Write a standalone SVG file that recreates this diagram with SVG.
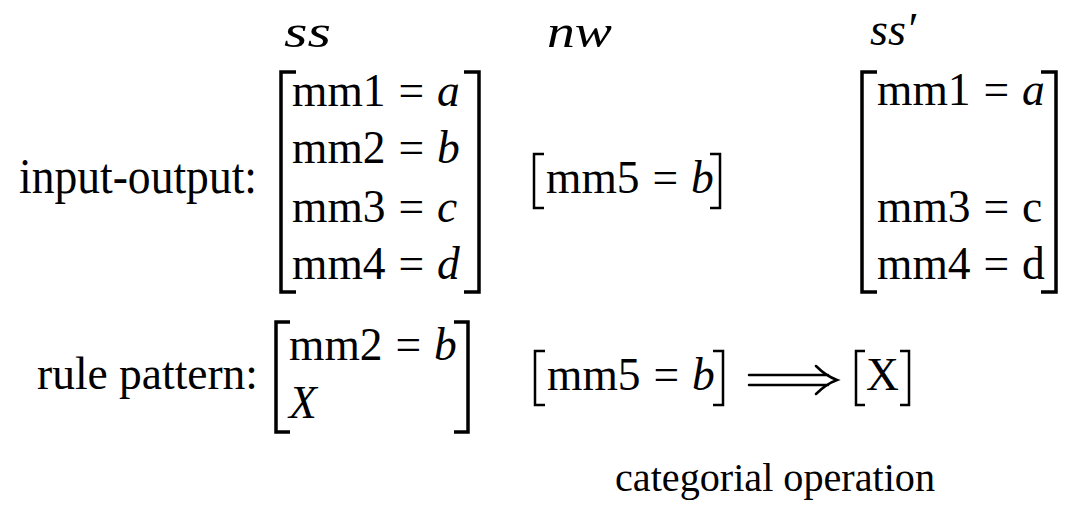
<svg xmlns="http://www.w3.org/2000/svg" width="1071" height="507" viewBox="0 0 1071 507">
<style>
text{font-family:"Liberation Serif","Times New Roman",serif;fill:#000}
.lbl{font-size:50px}
.ent{font-size:45.5px;word-spacing:1.5px}
.var{font-size:46px;font-style:italic}
.i{font-style:italic}
.br{fill:none;stroke:#000;stroke-width:3.5;stroke-linecap:butt;stroke-linejoin:miter}
.bs{fill:none;stroke:#000;stroke-width:2.5}
.arr{fill:none;stroke:#000;stroke-width:2.5;stroke-linecap:round}
</style>
<rect width="1071" height="507" fill="#fff"/>
<g id="header-ss"><text class="var" x="284" y="47" textLength="47" lengthAdjust="spacingAndGlyphs">ss</text></g>
<g id="header-nw"><text class="var" x="547" y="47" textLength="65" lengthAdjust="spacingAndGlyphs">nw</text></g>
<g id="header-ss-prime"><text class="var" x="870" y="45">ss′</text></g>
<g id="label-input-output"><text class="lbl" x="19" y="193" textLength="238" lengthAdjust="spacingAndGlyphs">input-output:</text></g>
<g id="matrix-ss">
<path class="br" d="M296,72 H281 V292 H296"/>
<path class="br" d="M464,72 H479 V292 H464"/>
<text class="ent" x="292" y="106">mm1 = <tspan class="i">a</tspan></text>
<text class="ent" x="292" y="163">mm2 = <tspan class="i">b</tspan></text>
<text class="ent" x="292" y="222">mm3 = <tspan class="i">c</tspan></text>
<text class="ent" x="292" y="279">mm4 = <tspan class="i">d</tspan></text>
</g>
<g id="matrix-nw">
<path class="bs" d="M544,154 H534 V208 H544"/>
<path class="bs" d="M710,154 H720 V208 H710"/>
<text class="ent" x="546" y="193">mm5 = <tspan class="i">b</tspan></text>
</g>
<g id="matrix-ss-prime">
<path class="br" d="M877,72 H862 V292 H877"/>
<path class="br" d="M1041,72 H1056 V292 H1041"/>
<text class="ent" x="877" y="105">mm1 = <tspan class="i">a</tspan></text>
<text class="ent" x="877" y="222">mm3 = c</text>
<text class="ent" x="877" y="279">mm4 = d</text>
</g>
<g id="label-rule-pattern"><text class="lbl" x="37" y="389" style="font-size:45.5px" textLength="221" lengthAdjust="spacingAndGlyphs">rule pattern:</text></g>
<g id="matrix-rule">
<path class="br" d="M290,322 H276 V432 H290"/>
<path class="br" d="M454,322 H468 V432 H454"/>
<text class="ent" x="289" y="360">mm2 = <tspan class="i">b</tspan></text>
<text class="ent i" x="289" y="418">X</text>
</g>
<g id="matrix-rule-nw">
<path class="bs" d="M545,351 H535 V405 H545"/>
<path class="bs" d="M713,351 H723 V405 H713"/>
<text class="ent" x="547" y="390">mm5 = <tspan class="i">b</tspan></text>
</g>
<g id="connectors">
<path class="arr" d="M749,375 H828 M749,385 H828 M816,366 Q826,376 837,380 Q826,384 816,394"/>
</g>
<g id="result-x">
<path class="bs" d="M865,351 H856 V405 H865"/>
<path class="bs" d="M900,351 H909 V405 H900"/>
<text class="ent" x="866" y="390">X</text>
</g>
<g id="label-categorial"><text class="lbl" x="615" y="491" style="font-size:41px" textLength="320" lengthAdjust="spacingAndGlyphs">categorial operation</text></g>
</svg>
